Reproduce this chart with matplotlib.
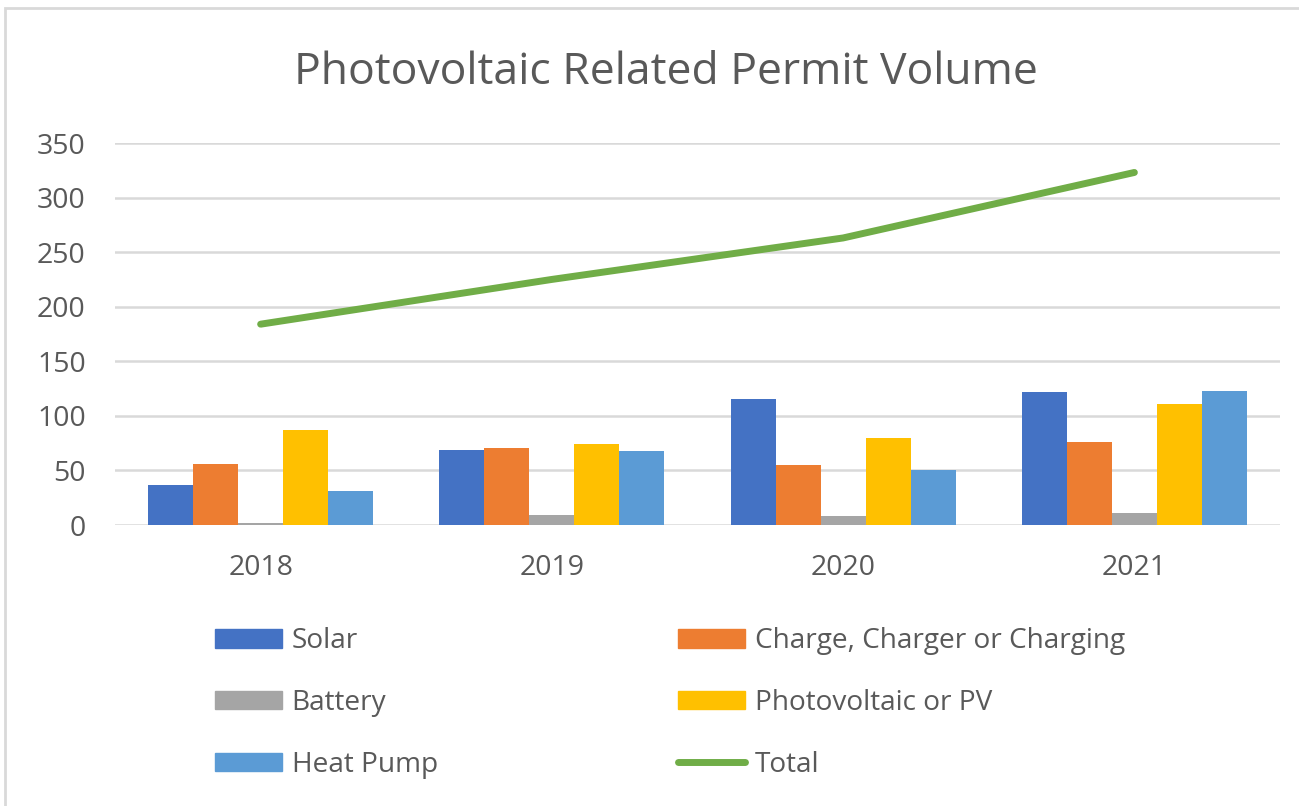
import numpy as np
import matplotlib.pyplot as plt
from matplotlib.patches import Patch, Rectangle
from matplotlib.lines import Line2D

plt.rcParams['font.family'] = ['Open Sans', 'DejaVu Sans']

# values
years = ['2018', '2019', '2020', '2021']
solar = [37, 69, 115, 122]
charge = [56, 71, 55, 76]
battery = [2, 9, 8, 11]
pv = [87, 74, 80, 111]
heat_pump = [31, 68, 50, 123]
total = [184, 225, 263, 323]

series_names = ['Solar', 'Charge, Charger or Charging', 'Battery',
                'Photovoltaic or PV', 'Heat Pump']
series_vals = [solar, charge, battery, pv, heat_pump]
colors = ['#4472C4', '#ED7D31', '#A5A5A5', '#FFC000', '#5B9BD5']
total_color = '#70AD47'
text_color = '#595959'
grid_color = '#D9D9D9'

W, H = 1299, 806
fig = plt.figure(figsize=(W / 100, H / 100), dpi=100)
ax = fig.add_axes([115 / W, 1 - 525 / H, (1280 - 115) / W, (525 - 143) / H])

x = np.arange(len(years))
bw = 45 / 291
for i, (name, vals) in enumerate(zip(series_names, series_vals)):
    offs = (i - 2) * bw
    ax.bar(x + offs, vals, width=bw, color=colors[i], linewidth=0, zorder=3)

ax.plot(x, total, color=total_color, lw=5, solid_capstyle='round', zorder=4)

ax.set_xlim(-0.5, 3.5)
ax.set_ylim(0, 350)
ax.set_yticks(np.arange(0, 351, 50))
ax.set_xticks(x)
ax.set_xticklabels(years)
ax.yaxis.grid(True, color=grid_color, lw=1.8, zorder=0)
ax.set_axisbelow(True)
for s in ax.spines.values():
    s.set_visible(False)
ax.tick_params(axis='both', length=0, colors=text_color, labelsize=20.5)
ax.tick_params(axis='y', pad=21)
ax.tick_params(axis='x', pad=21)

fig.text(666 / W, 1 - 73 / H, 'Photovoltaic Related Permit Volume',
         ha='center', va='center', fontsize=32, color=text_color)

# legend: two separate columns so they sit where the reference puts them
h_solar = Patch(color=colors[0], label=series_names[0])
h_charge = Patch(color=colors[1], label=series_names[1])
h_batt = Patch(color=colors[2], label=series_names[2])
h_pv = Patch(color=colors[3], label=series_names[3])
h_hp = Patch(color=colors[4], label=series_names[4])
h_total = Line2D([], [], color=total_color, lw=5, solid_capstyle='round', label='Total')

leg_kw = dict(loc='center left', frameon=False, fontsize=20.2, borderpad=0,
              borderaxespad=0, handlelength=2.38, handleheight=0.62,
              handletextpad=0.35, labelspacing=1.2, labelcolor=text_color)
fig.legend(handles=[h_solar, h_batt, h_hp],
           bbox_to_anchor=(215 / W, 1 - 703 / H), **leg_kw)
fig.legend(handles=[h_charge, h_pv, h_total],
           bbox_to_anchor=(678 / W, 1 - 703 / H), **leg_kw)

# thin chart-area border (top and left edges visible)
fig.patches.append(Rectangle((5 / W, -0.05), 1.1, 1 - 8 / H + 0.05,
                             transform=fig.transFigure, fill=False,
                             edgecolor=grid_color, lw=2))

fig.savefig('out.png', dpi=100)
